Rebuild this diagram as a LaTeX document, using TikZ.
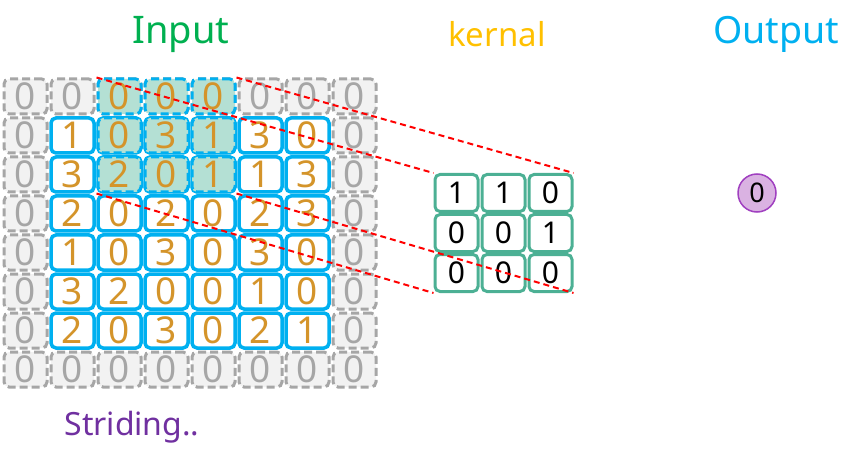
\documentclass[tikz,border=0pt]{standalone}
\usepackage{fontspec}
\setmainfont{Noto Sans}
\usepackage{tikz}
\usetikzlibrary{arrows.meta}
\usetikzlibrary{positioning,calc}
\definecolor{padgray}{RGB}{166,166,166}
\definecolor{padfill}{RGB}{242,242,242}
\definecolor{inblue}{RGB}{0,176,240}
\definecolor{winteal}{RGB}{180,224,212}
\definecolor{digitgold}{RGB}{212,148,42}
\definecolor{kergreen}{RGB}{76,176,148}
\definecolor{titlegreen}{RGB}{0,176,80}
\definecolor{titleorange}{RGB}{255,192,0}
\definecolor{titlepurple}{RGB}{112,48,160}
\definecolor{outfill}{RGB}{218,178,226}
\definecolor{outborder}{RGB}{160,64,192}
\tikzset{
    cell/.style={
        draw,
        rounded corners=5pt,
        minimum width=43pt,
        minimum height=35pt,
        inner sep=0pt
    },
    stride line/.style={
        draw=red,
        line width=2pt,
        dash pattern=on 6pt off 4pt
    }
}
\tikzset{
  every node/.style={font=\rmfamily}
}

\begin{document}
\begin{tikzpicture}[
    x = 1pt,
    y = -1pt,
    pad cell/.style = {cell, draw=padgray, fill=padfill, line width=3pt,
        dash pattern=on 8pt off 4pt, text=padgray,
        font=\fontsize{37}{37}\selectfont},
    in cell/.style = {cell, draw=inblue, fill=white, line width=3.5pt,
        text=digitgold, font=\fontsize{37}{37}\selectfont},
    win cell/.style = {cell, draw=inblue, fill=winteal, line width=3pt,
        dash pattern=on 8pt off 4pt, text=digitgold,
        font=\fontsize{37}{37}\selectfont},
    ker cell/.style = {cell, draw=kergreen, fill=white, line width=3pt,
        minimum height=37pt, font=\fontsize{30}{30}\selectfont},
    out node/.style = {circle, draw=outborder, fill=outfill, line width=1.5pt,
        minimum size=38pt, inner sep=0pt, font=\fontsize{27}{27}\selectfont}
]
\useasboundingbox (0,0) rectangle (863,468);

% Titles
\node[text=titlegreen, font=\fontsize{38}{38}\selectfont] (input title) at (181,34) {Input};
\node[text=titleorange, font=\fontsize{33}{33}\selectfont] (kernal title) at (497,34) {kernal};
\node[text=inblue, font=\fontsize{37.5}{37.5}\selectfont] (output title) at (776,34) {Output};
\node[text=titlepurple, font=\fontsize{32}{32}\selectfont] (striding) at (132,427) {Striding..};

% Zero padding around the input
\foreach \c in {0,...,7} {
    \node[pad cell] (pad-0-\c) at ({25.5+47*\c},96.5) {0};
    \node[pad cell] (pad-7-\c) at ({25.5+47*\c},369.5) {0};
}
\foreach \r in {1,...,6} {
    \node[pad cell] (pad-\r-0) at (25.5,{96.5+39*\r}) {0};
    \node[pad cell] (pad-\r-7) at (354.5,{96.5+39*\r}) {0};
}

% Input values
\foreach \v [count=\c] in {1,0,3,1,3,0}
    \node[in cell] (in-1-\c) at ({25.5+47*\c},135.5) {\v};
\foreach \v [count=\c] in {3,2,0,1,1,3}
    \node[in cell] (in-2-\c) at ({25.5+47*\c},174.5) {\v};
\foreach \v [count=\c] in {2,0,2,0,2,3}
    \node[in cell] (in-3-\c) at ({25.5+47*\c},213.5) {\v};
\foreach \v [count=\c] in {1,0,3,0,3,0}
    \node[in cell] (in-4-\c) at ({25.5+47*\c},252.5) {\v};
\foreach \v [count=\c] in {3,2,0,0,1,0}
    \node[in cell] (in-5-\c) at ({25.5+47*\c},291.5) {\v};
\foreach \v [count=\c] in {2,0,3,0,2,1}
    \node[in cell] (in-6-\c) at ({25.5+47*\c},330.5) {\v};

% Current window of the stride
\foreach \v [count=\c from 2] in {0,0,0}
    \node[win cell] (win-0-\c) at ({25.5+47*\c},96.5) {\v};
\foreach \v [count=\c from 2] in {0,3,1}
    \node[win cell] (win-1-\c) at ({25.5+47*\c},135.5) {\v};
\foreach \v [count=\c from 2] in {2,0,1}
    \node[win cell] (win-2-\c) at ({25.5+47*\c},174.5) {\v};

% Kernel
\foreach \v [count=\c] in {1,1,0}
    \node[ker cell] (ker-1-\c) at ({409.5+47*\c},193) {\v};
\foreach \v [count=\c] in {0,0,1}
    \node[ker cell] (ker-2-\c) at ({409.5+47*\c},233) {\v};
\foreach \v [count=\c] in {0,0,0}
    \node[ker cell] (ker-3-\c) at ({409.5+47*\c},273) {\v};

% Output
\node[out node] (out) at (757,193) {0};

% Projection of the window onto the kernel
\path[stride line] (win-0-2.north west) -- (ker-1-1.north west);
\path[stride line] (win-0-4.north east) -- (ker-1-3.north east);
\path[stride line] (win-2-2.south west) -- (ker-3-1.south west);
\path[stride line] (win-2-4.south east) -- (ker-3-3.south east);

\end{tikzpicture}
\end{document}
